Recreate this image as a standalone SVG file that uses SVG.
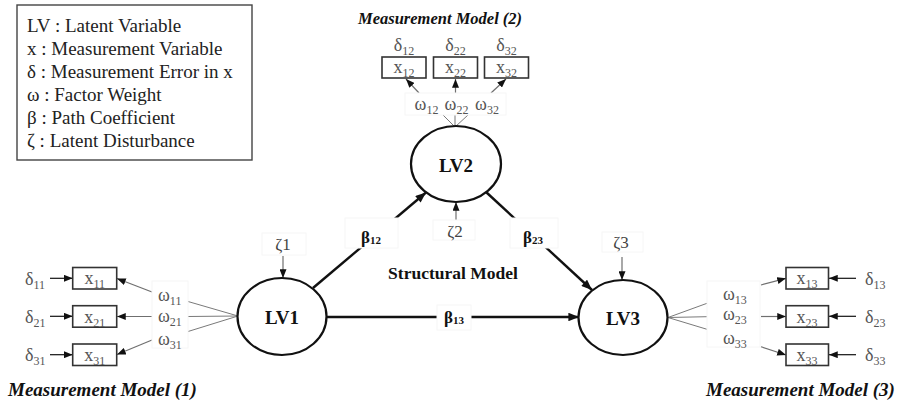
<svg xmlns="http://www.w3.org/2000/svg" width="899" height="403" viewBox="0 0 899 403">
  <defs>
    <style>
      .serif { font-family: "Liberation Serif", "Times New Roman", serif; }
      .legend { font-size: 19px; fill: #222; }
      .title { font-weight: bold; font-style: italic; fill: #111; }
      .lv { fill: #fff; stroke: #111; stroke-width: 2.2; }
      .lvtext { font-size: 19px; font-weight: bold; fill: #111; text-anchor: middle; }
      .beta { font-size: 17px; font-weight: bold; fill: #111; text-anchor: middle; }
      .mv { fill: #fff; stroke: #333; stroke-width: 1.6; }
      .mvtext { font-size: 18px; fill: #555; text-anchor: middle; }
      .lab { font-size: 18px; fill: #555; }
      .zeta { font-size: 17px; fill: #444; text-anchor: middle; }
      .tbox { fill: #fff; stroke: #f6f6f6; stroke-width: 1; }
      .path { fill: none; stroke: #111; stroke-width: 2.4; }
      .thin { fill: none; stroke: #111; stroke-width: 1.2; }
      .grey { fill: none; stroke: #6f6f6f; stroke-width: 1.2; }
      .fan { fill: none; stroke: #7a7a7a; stroke-width: 1; }
    </style>
    <marker id="headBig" viewBox="0 0 10 8" refX="10" refY="4" markerWidth="11" markerHeight="8.5" markerUnits="userSpaceOnUse" orient="auto">
      <path d="M0,0 L10,4 L0,8 z" fill="#111"/>
    </marker>
    <marker id="head" viewBox="0 0 10 8" refX="10" refY="4" markerWidth="9" markerHeight="7" markerUnits="userSpaceOnUse" orient="auto">
      <path d="M0,0 L10,4 L0,8 z" fill="#111"/>
    </marker>
  </defs>

  <rect width="899" height="403" fill="#fff"/>

  <!-- legend -->
  <g id="legend" class="serif legend">
    <rect x="17" y="5" width="235" height="155" fill="#fff" stroke="#444" stroke-width="1.4"/>
    <text x="27" y="32">LV : Latent Variable</text>
    <text x="27" y="55">x : Measurement Variable</text>
    <text x="27" y="78">δ : Measurement Error in x</text>
    <text x="27" y="101">ω : Factor Weight</text>
    <text x="27" y="124">β : Path Coefficient</text>
    <text x="27" y="147">ζ : Latent Disturbance</text>
  </g>

  <!-- section titles -->
  <g id="titles" class="serif title">
    <text x="358" y="24" font-size="16.5">Measurement Model (2)</text>
    <text x="8" y="396" font-size="19">Measurement Model (1)</text>
    <text x="706" y="396" font-size="19">Measurement Model (3)</text>
    <text x="453" y="279" font-size="17.5" font-style="normal" text-anchor="middle">Structural Model</text>
  </g>

  <!-- connectors -->
  <g id="connectors">
    <!-- structural paths -->
    <line class="path" x1="313" y1="288" x2="426" y2="192.5" marker-end="url(#headBig)"/>
    <line class="path" x1="486" y1="192" x2="592" y2="290" marker-end="url(#headBig)"/>
    <line class="path" x1="327" y1="317" x2="579" y2="317" marker-end="url(#headBig)"/>
    <!-- disturbances -->
    <line class="grey" x1="283" y1="256" x2="283" y2="278" marker-end="url(#head)"/>
    <line class="grey" x1="622" y1="257" x2="622" y2="280" marker-end="url(#head)"/>
    <line class="grey" x1="456" y1="220" x2="456" y2="202" marker-end="url(#head)"/>

    <!-- measurement model (2) -->
    <line class="fan" x1="455" y1="127" x2="443" y2="115"/>
    <line class="fan" x1="455" y1="127" x2="455" y2="115"/>
    <line class="fan" x1="455" y1="127" x2="468" y2="115"/>
    <line class="grey" x1="419" y1="93" x2="406" y2="79" marker-end="url(#head)"/>
    <line class="grey" x1="455.5" y1="93" x2="455.5" y2="79" marker-end="url(#head)"/>
    <line class="grey" x1="491" y1="93" x2="506" y2="79" marker-end="url(#head)"/>

    <!-- measurement model (1) -->
    <line class="fan" x1="238" y1="316" x2="188" y2="301.5"/>
    <line class="fan" x1="238" y1="316" x2="188" y2="316.5"/>
    <line class="fan" x1="238" y1="316" x2="188" y2="331.5"/>
    <line class="grey" x1="152" y1="292" x2="117" y2="278.5" marker-end="url(#head)"/>
    <line class="grey" x1="152" y1="316.5" x2="117" y2="316.5" marker-end="url(#head)"/>
    <line class="grey" x1="152" y1="340" x2="117" y2="354.5" marker-end="url(#head)"/>
    <line class="thin" x1="50" y1="278.3" x2="72.7" y2="278.3" marker-end="url(#head)"/>
    <line class="thin" x1="50" y1="316.3" x2="72.7" y2="316.3" marker-end="url(#head)"/>
    <line class="thin" x1="50" y1="354.7" x2="72.7" y2="354.7" marker-end="url(#head)"/>

    <!-- measurement model (3) -->
    <line class="fan" x1="668" y1="317.5" x2="707" y2="303.3"/>
    <line class="fan" x1="668" y1="317.5" x2="707" y2="316.7"/>
    <line class="fan" x1="668" y1="317.5" x2="707" y2="329.3"/>
    <line class="grey" x1="761" y1="285" x2="786" y2="278.3" marker-end="url(#head)"/>
    <line class="grey" x1="761" y1="316.5" x2="786" y2="316.5" marker-end="url(#head)"/>
    <line class="grey" x1="761" y1="346.7" x2="786" y2="355" marker-end="url(#head)"/>
    <line class="thin" x1="856" y1="278.3" x2="829" y2="278.3" marker-end="url(#head)"/>
    <line class="thin" x1="856" y1="316.3" x2="829" y2="316.3" marker-end="url(#head)"/>
    <line class="thin" x1="856" y1="354.7" x2="829" y2="354.7" marker-end="url(#head)"/>
  </g>

  <!-- path and weight labels -->
  <g id="labels" class="serif">
    <rect class="tbox" x="345" y="218" width="53" height="30"/>
    <text class="beta" x="371" y="243">β<tspan font-size="11" dy="1">12</tspan></text>
    <rect class="tbox" x="510" y="218" width="48" height="30"/>
    <text class="beta" x="533" y="243">β<tspan font-size="11" dy="1">23</tspan></text>
    <rect class="tbox" x="437" y="305" width="34" height="25"/>
    <text class="beta" x="454" y="323">β<tspan font-size="11" dy="1">13</tspan></text>

    <rect class="tbox" x="262" y="233" width="44" height="22"/>
    <text class="zeta" x="283" y="250">ζ1</text>
    <rect class="tbox" x="433" y="220" width="42" height="20"/>
    <text class="zeta" x="455" y="237">ζ2</text>
    <rect class="tbox" x="602" y="232" width="41" height="20"/>
    <text class="zeta" x="621" y="248">ζ3</text>

    <rect class="tbox" x="405" y="93" width="101" height="22"/>
    <text class="lab" x="426.5" y="110" text-anchor="middle">ω<tspan font-size="12" dy="4">12</tspan></text>
    <text class="lab" x="456.5" y="110" text-anchor="middle">ω<tspan font-size="12" dy="4">22</tspan></text>
    <text class="lab" x="487" y="110" text-anchor="middle">ω<tspan font-size="12" dy="4">32</tspan></text>

    <rect class="tbox" x="152" y="281" width="36" height="67"/>
    <text class="lab" x="158" y="301">ω<tspan font-size="12" dy="4">11</tspan></text>
    <text class="lab" x="158" y="322">ω<tspan font-size="12" dy="4">21</tspan></text>
    <text class="lab" x="158" y="345">ω<tspan font-size="12" dy="4">31</tspan></text>

    <rect class="tbox" x="707" y="281" width="53" height="66"/>
    <text class="lab" x="723" y="300">ω<tspan font-size="12" dy="4">13</tspan></text>
    <text class="lab" x="723" y="320">ω<tspan font-size="12" dy="4">23</tspan></text>
    <text class="lab" x="723" y="344">ω<tspan font-size="12" dy="4">33</tspan></text>
  </g>

  <!-- latent variables -->
  <g id="LV1" class="serif">
    <ellipse class="lv" cx="282" cy="316.5" rx="44.5" ry="38.5"/>
    <text class="lvtext" x="282" y="323.5">LV1</text>
  </g>
  <g id="LV2" class="serif">
    <ellipse class="lv" cx="456" cy="164" rx="45" ry="38"/>
    <text class="lvtext" x="456" y="172">LV2</text>
  </g>
  <g id="LV3" class="serif">
    <ellipse class="lv" cx="623" cy="317.5" rx="44.5" ry="37.5"/>
    <text class="lvtext" x="623" y="324.5">LV3</text>
  </g>

  <!-- measurement variables, model (2) -->
  <g id="x12" class="serif">
    <text class="lab" x="404" y="51" text-anchor="middle">δ<tspan font-size="12" dy="4">12</tspan></text>
    <rect class="mv" x="382" y="57" width="44" height="21"/>
    <text class="mvtext" x="404" y="73">x<tspan font-size="12" dy="4">12</tspan></text>
  </g>
  <g id="x22" class="serif">
    <text class="lab" x="455.5" y="51" text-anchor="middle">δ<tspan font-size="12" dy="4">22</tspan></text>
    <rect class="mv" x="433.5" y="57" width="44" height="21"/>
    <text class="mvtext" x="455.5" y="73">x<tspan font-size="12" dy="4">22</tspan></text>
  </g>
  <g id="x32" class="serif">
    <text class="lab" x="506.5" y="51" text-anchor="middle">δ<tspan font-size="12" dy="4">32</tspan></text>
    <rect class="mv" x="484.5" y="57" width="44" height="21"/>
    <text class="mvtext" x="506.5" y="73">x<tspan font-size="12" dy="4">32</tspan></text>
  </g>

  <!-- measurement variables, model (1) -->
  <g id="x11" class="serif">
    <text class="lab" x="25" y="285">δ<tspan font-size="12" dy="4">11</tspan></text>
    <rect class="mv" x="72.7" y="267.5" width="44" height="21.5"/>
    <text class="mvtext" x="94.7" y="284">x<tspan font-size="12" dy="4">11</tspan></text>
  </g>
  <g id="x21" class="serif">
    <text class="lab" x="25" y="323">δ<tspan font-size="12" dy="4">21</tspan></text>
    <rect class="mv" x="72.7" y="305.7" width="44" height="21.5"/>
    <text class="mvtext" x="94.7" y="322.5">x<tspan font-size="12" dy="4">21</tspan></text>
  </g>
  <g id="x31" class="serif">
    <text class="lab" x="25" y="361">δ<tspan font-size="12" dy="4">31</tspan></text>
    <rect class="mv" x="72.7" y="344" width="44" height="21.5"/>
    <text class="mvtext" x="94.7" y="361">x<tspan font-size="12" dy="4">31</tspan></text>
  </g>

  <!-- measurement variables, model (3) -->
  <g id="x13" class="serif">
    <rect class="mv" x="786" y="267.5" width="42.5" height="21.5"/>
    <text class="mvtext" x="807" y="284">x<tspan font-size="12" dy="4">13</tspan></text>
    <text class="lab" x="865" y="285">δ<tspan font-size="12" dy="4">13</tspan></text>
  </g>
  <g id="x23" class="serif">
    <rect class="mv" x="786" y="305.7" width="42.5" height="21.5"/>
    <text class="mvtext" x="807" y="322.5">x<tspan font-size="12" dy="4">23</tspan></text>
    <text class="lab" x="865" y="323">δ<tspan font-size="12" dy="4">23</tspan></text>
  </g>
  <g id="x33" class="serif">
    <rect class="mv" x="786" y="344" width="42.5" height="21.5"/>
    <text class="mvtext" x="807" y="361">x<tspan font-size="12" dy="4">33</tspan></text>
    <text class="lab" x="865" y="361">δ<tspan font-size="12" dy="4">33</tspan></text>
  </g>
</svg>
